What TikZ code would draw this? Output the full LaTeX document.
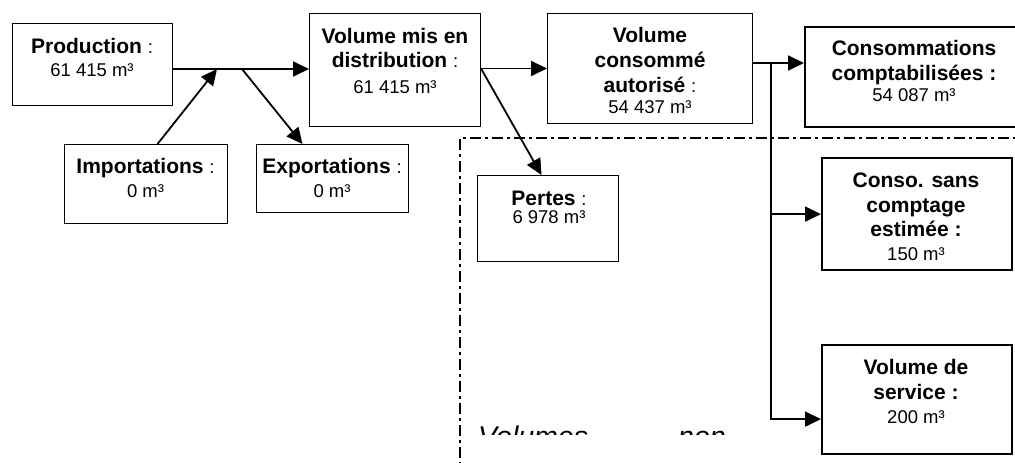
\documentclass[tikz,border=0pt]{standalone}
\usepackage{fontspec}
\setmainfont{Liberation Sans}
\usetikzlibrary{arrows.meta}
\newcommand\boldtxt[1]{{\fontsize{21}{24}\selectfont\bfseries #1}}
\newcommand\regtxt[1]{{\fontsize{18.5}{24}\selectfont #1}}
\newcommand\lines[1]{\begin{tabular}[t]{@{}c@{}}#1\end{tabular}}
\begin{document}
\begin{tikzpicture}[x=1pt,y=-1pt,
  bx/.style={draw, line width=1pt, anchor=north west, inner sep=0pt},
  bxk/.style={bx, line width=2.2pt},
  conn/.style={line width=1.8pt, -{Triangle[length=16pt,width=15pt]}},
  plain/.style={line width=1.8pt},
  lbl/.style={anchor=base, inner sep=0pt, align=center, font=\fontsize{21}{24}\selectfont},
  ddot/.style={line width=2.8pt, dash pattern=on 11pt off 4pt on 3pt off 4pt},
  bigit/.style={anchor=base west, inner sep=0pt, font=\fontsize{28.5}{30}\selectfont\itshape}
]
\useasboundingbox (0,0) rectangle (1015,463);
\fill[white] (0,0) rectangle (1015,463);

% dash-dot region
\draw[ddot] (460,480) -- (460,138) -- (1040,138);

% boxes
\node[bx, minimum width=160pt, minimum height=82pt] (prod) at (12,23) {};
\node[bx, minimum width=163pt, minimum height=79pt] (imp) at (64,144) {};
\node[bx, minimum width=152pt, minimum height=68pt] (exp) at (256,144) {};
\node[bx, minimum width=171pt, minimum height=113pt] (vmd) at (309,13) {};
\node[bx, minimum width=205pt, minimum height=110pt] (vc) at (547,13) {};
\node[bx, minimum width=141pt, minimum height=86pt] (pertes) at (477,175) {};
\node[bxk, minimum width=220pt, minimum height=100pt] (cons) at (804,26) {};
\node[bxk, minimum width=190pt, minimum height=112pt] (csc) at (821,157) {};
\node[bxk, minimum width=190pt, minimum height=109pt] (vds) at (821,344) {};

% texts
\node[lbl] (prodT) at (92,53) {\lines{\boldtxt{Production} \regtxt{:}\\[-1pt] \regtxt{61 415 m³}}};
\node[lbl] (impT) at (145.5,173) {\lines{\boldtxt{Importations} \regtxt{:}\\ \regtxt{0 m³}}};
\node[lbl] (expT) at (332,173) {\lines{\boldtxt{Exportations} \regtxt{:}\\ \regtxt{0 m³}}};
\node[lbl] (vmdT) at (395,43) {\lines{\boldtxt{Volume mis en}\\ \boldtxt{distribution} \regtxt{:}\\[2pt] \regtxt{61 415 m³}}};
\node[lbl] (vcT) at (650,42) {\lines{\boldtxt{Volume}\\[1pt] \boldtxt{consommé}\\[1pt] \boldtxt{autorisé} \regtxt{:}\\[-3pt] \regtxt{54 437 m³}}};
\node[lbl] (pertesT) at (549,205) {\lines{\boldtxt{Pertes} \regtxt{:}\\[-6pt] \regtxt{6 978 m³}}};
\node[lbl] (consT) at (914,55) {\lines{\boldtxt{Consommations}\\[1pt] \boldtxt{comptabilisées :}\\[-2pt] \regtxt{54 087 m³}}};
\node[lbl] (cscT) at (916,187) {\lines{\boldtxt{Conso. sans}\\[1pt] \boldtxt{comptage}\\ \boldtxt{estimée :}\\ \regtxt{150 m³}}};
\node[lbl] (vdsT) at (916,374) {\lines{\boldtxt{Volume de}\\[1pt] \boldtxt{service :}\\ \regtxt{200 m³}}};

% clipped italic text
\begin{scope}
\clip (462,400) rectangle (1015,434);
\node[bigit] (volT) at (478,446) {Volumes};
\node[bigit] (nonT) at (678,446) {non};
\end{scope}

% junctions
\coordinate (j1) at (217,69);
\coordinate (j2) at (242,69);
\coordinate (j4) at (771,63);

% connectors
\draw[conn] (prod.east |- j1) -- (vmd.west |- j1);
\draw[conn] ([xshift=11.5pt]imp.north) -- (j1);
\draw[conn] (j2) -- ([xshift=-30pt]exp.north);
\draw[conn] (vmd.east |- vc.west) -- (vc.west);
\draw[conn] (vmd.east |- vc.west) -- ([xshift=-6.5pt]pertes.north);
\draw[plain] (vc.east |- j4) -- (j4);
\draw[conn] (j4) -- (cons.west |- j4);
\draw[conn] (j4 |- csc.west) -- (csc.west);
\draw[conn, line join=miter] (j4) |- ([yshift=-19.5pt]vds.west);
\end{tikzpicture}
\end{document}
